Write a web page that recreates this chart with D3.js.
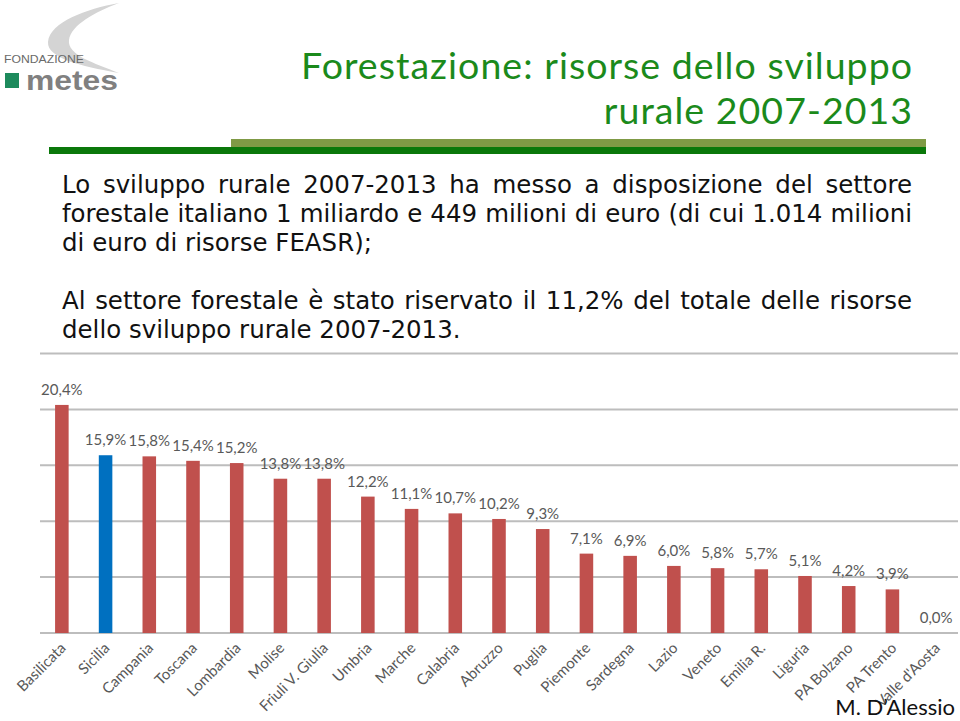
<!DOCTYPE html>
<html><head><meta charset="utf-8">
<script src="https://cdn.jsdelivr.net/npm/d3@7/dist/d3.min.js"></script>
<style>html,body{margin:0;padding:0;background:#fff;}svg{display:block;}</style>
</head><body>
<svg id="c" width="960" height="721"></svg>
<script>
const categories = ["Basilicata","Sicilia","Campania","Toscana","Lombardia","Molise","Friuli V. Giulia","Umbria","Marche","Calabria","Abruzzo","Puglia","Piemonte","Sardegna","Lazio","Veneto","Emilia R.","Liguria","PA Bolzano","PA Trento","Valle d'Aosta"];
const values = [20.4,15.9,15.8,15.4,15.2,13.8,13.8,12.2,11.1,10.7,10.2,9.3,7.1,6.9,6.0,5.8,5.7,5.1,4.2,3.9,0.0];
const highlighted = ["Sicilia"];
const yTicks = [0,5,10,15,20,25];
const titleLines = ["Forestazione: risorse dello sviluppo","rurale 2007-2013"];
const bodyLines = [
  {t:"Lo sviluppo rurale 2007-2013 ha messo a disposizione del settore", j:true},
  {t:"forestale italiano 1 miliardo e 449 milioni di euro (di cui 1.014 milioni", j:true},
  {t:"di euro di risorse FEASR);", j:false},
  {t:"Al settore forestale è stato riservato il 11,2% del totale delle risorse", j:true},
  {t:"dello sviluppo rurale 2007-2013.", j:false}
];
const author = "M. D\u2019Alessio";

const svg = d3.select("#c");

// Logo
const logo = svg.append("g");
logo.append("path")
  .attr("d","M119,3 C86,9 50,22 48,42 C47,58 80,66 119,73 C94,63 67,55 69,40 C71,25 95,12 119,3 Z")
  .attr("fill","#d4d4d4");
logo.append("text").attr("x",4).attr("y",63).attr("font-family","Liberation Sans, Arial").attr("font-size",10.5)
  .attr("fill","#6a6a6a").attr("textLength",80).attr("lengthAdjust","spacingAndGlyphs").text("FONDAZIONE");
logo.append("rect").attr("x",5).attr("y",73).attr("width",14).attr("height",15).attr("fill","#1d8a5c");
logo.append("text").attr("x",26).attr("y",90).attr("font-family","Liberation Sans, Arial").attr("font-weight","bold")
  .attr("font-size",27).attr("fill","#808080").attr("textLength",92).attr("lengthAdjust","spacingAndGlyphs").text("metes");

// Title
const tf = "Lato, 'Open Sans', sans-serif";
const tfs = 37.5;
const t1 = svg.append("text").attr("y",79).attr("text-anchor","end")
  .attr("font-family",tf).attr("font-size",tfs).attr("fill","#1b8a1b").text(titleLines[0]);
const w1 = t1.node().getComputedTextLength();
const ls1 = (612 - w1)/titleLines[0].length;
t1.attr("letter-spacing",ls1).attr("x",912+ls1);
svg.append("text").attr("x",912+ls1).attr("y",124).attr("text-anchor","end")
  .attr("font-family",tf).attr("font-size",tfs).attr("fill","#1b8a1b").attr("letter-spacing",ls1).text(titleLines[1]);

// Header bars
svg.append("rect").attr("x",231).attr("y",139).attr("width",695).attr("height",8).attr("fill","#7f9a45");
svg.append("rect").attr("x",49).attr("y",147).attr("width",877).attr("height",7).attr("fill","#0a780a");

// Body text
const bf = "'DejaVu Sans', Verdana, sans-serif";
const probe = svg.append("text").attr("font-family",bf).attr("font-size",20).text(bodyLines[2].t);
const bfs = 20*310/probe.node().getComputedTextLength();
probe.remove();
const bodyY = [193,222,251,309,338];
const x0 = 62, x1 = 912;
bodyLines.forEach((ln,i)=>{
  const words = ln.t.split(" ");
  const g = svg.append("g");
  const nodes = words.map(wd=>g.append("text").attr("font-family",bf).attr("font-size",bfs).attr("fill","#111").attr("y",bodyY[i]).text(wd));
  const widths = nodes.map(n=>n.node().getComputedTextLength());
  const sum = d3.sum(widths);
  let gap;
  if (ln.j) gap = (x1-x0-sum)/(words.length-1);
  else { const sp = g.append("text").attr("font-family",bf).attr("font-size",bfs).text("a a"); const sa=g.append("text").attr("font-family",bf).attr("font-size",bfs).text("aa"); gap = sp.node().getComputedTextLength()-sa.node().getComputedTextLength(); sp.remove(); sa.remove(); }
  let x = x0;
  nodes.forEach((n,k)=>{ n.attr("x",x); x += widths[k]+gap; });
});

// Chart
const x = d3.scaleBand().domain(categories).range([40,958]).paddingInner(0.69).paddingOuter(0.345);
const y = d3.scaleLinear().domain([0,25]).range([633,353.5]);

const grid = svg.append("g");
grid.selectAll("line").data(yTicks).join("line")
  .attr("x1",40).attr("x2",958).attr("y1",d=>y(d)).attr("y2",d=>y(d))
  .attr("stroke","#bdbdbd").attr("stroke-width",2);

svg.append("g").selectAll("rect").data(categories).join("rect")
  .attr("x",d=>x(d)).attr("width",x.bandwidth())
  .attr("y",(d,i)=>y(values[i])).attr("height",(d,i)=>y(0)-y(values[i]))
  .attr("fill",d=>highlighted.includes(d)?"#0070c0":"#c0504d");

const lf = "Lato, 'Open Sans', sans-serif";
svg.append("g").selectAll("text").data(categories).join("text")
  .attr("x",d=>x(d)+x.bandwidth()/2).attr("y",(d,i)=>y(values[i])-10)
  .attr("text-anchor","middle").attr("font-family",lf).attr("font-size",15).attr("fill","#595959")
  .text((d,i)=>values[i].toFixed(1).replace(".",",")+"%");

svg.append("g").selectAll("text").data(categories).join("text")
  .attr("transform",d=>`translate(${x(d)+x.bandwidth()/2+5},${649}) rotate(-45)`)
  .attr("text-anchor","end").attr("font-family",lf).attr("font-size",15).attr("fill","#595959")
  .text(d=>d);

svg.append("text").attr("x",955).attr("y",715).attr("text-anchor","end")
  .attr("font-family",tf).attr("font-size",22).attr("fill","#111").text(author);
</script>
</body></html>
